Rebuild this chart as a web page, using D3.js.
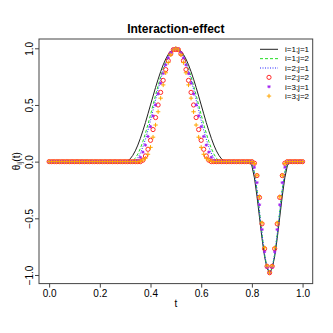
<!DOCTYPE html>
<html><head><meta charset="utf-8">
<script src="https://cdn.jsdelivr.net/npm/d3@7"></script>
<style>body{margin:0;background:#fff} svg{display:block} text{font-family:"Liberation Sans",Arial,sans-serif;fill:#000}</style>
</head><body><svg id="c" width="333" height="333"></svg>
<script>
const tGrid = [0,0.01,0.02,0.03,0.04,0.05,0.06,0.07,0.08,0.09,
0.1,0.11,0.12,0.13,0.14,0.15,0.16,0.17,0.18,0.19,
0.2,0.21,0.22,0.23,0.24,0.25,0.26,0.27,0.28,0.29,
0.3,0.31,0.32,0.33,0.34,0.35,0.36,0.37,0.38,0.39,
0.4,0.41,0.42,0.43,0.44,0.45,0.46,0.47,0.48,0.49,
0.5,0.51,0.52,0.53,0.54,0.55,0.56,0.57,0.58,0.59,
0.6,0.61,0.62,0.63,0.64,0.65,0.66,0.67,0.68,0.69,
0.7,0.71,0.72,0.73,0.74,0.75,0.76,0.77,0.78,0.79,
0.8,0.81,0.82,0.83,0.84,0.85,0.86,0.87,0.88,0.89,
0.9,0.91,0.92,0.93,0.94,0.95,0.96,0.97,0.98,0.99,1];

const xTicks = [0, 0.2, 0.4, 0.6, 0.8, 1.0];
const yTicks = [-1, -0.5, 0, 0.5, 1];
const seriesNames = ["i=1;j=1","i=1;j=2","i=2;j=1","i=2;j=2","i=3;j=1","i=3;j=2"];

const s11 = [0,0,0,0,0,0,0,0,0,0, 0,0,0,0,0,0,0,0,0,0, 0,0,0,0,0,0,0,0,0,0,
0,.006,.025,.055,.095,.146,.206,.273,.345,.422,
.5,.578,.655,.727,.794,.854,.905,.946,.976,.994,
1,.994,.976,.946,.905,.854,.794,.727,.655,.578,
.5,.422,.345,.273,.206,.146,.095,.055,.025,.006,
0,0,0,0,0,0,0,0,0,0,
-.037,-.143,-.303,-.49,-.677,-.837,-.943,-.98,-.943,-.837,
-.677,-.49,-.303,-.143,-.037,0,0,0,0,0, 0];

const s12 = [0,0,0,0,0,0,0,0,0,0, 0,0,0,0,0,0,0,0,0,0, 0,0,0,0,0,0,0,0,0,0,
0,0,0,.008,.030,.067,.117,.179,.25,.329,
.413,.5,.587,.671,.75,.821,.883,.933,.970,.992,
1,.992,.970,.933,.883,.821,.75,.671,.587,.5,
.413,.329,.25,.179,.117,.067,.030,.008,0,0,
0,0,0,0,0,0,0,0,0,0,
-.011,-.094,-.245,-.439,-.641,-.818,-.938,-.98,-.938,-.818,
-.641,-.439,-.245,-.094,-.011,0,0,0,0,0, 0];

const s21 = [0,0,0,0,0,0,0,0,0,0, 0,0,0,0,0,0,0,0,0,0, 0,0,0,0,0,0,0,0,0,0,
0,0,0,0,.009,.034,.075,.131,.199,.277,
.363,.454,.546,.637,.723,.801,.870,.925,.966,.992,
1,.992,.966,.925,.870,.801,.723,.637,.546,.454,
.363,.277,.199,.131,.075,.034,.009,0,0,0,
0,0,0,0,0,0,0,0,0,0,
-.012,-.097,-.247,-.44,-.64,-.815,-.935,-.975,-.935,-.815,
-.64,-.44,-.247,-.097,-.012,0,0,0,0,0, 0];

const s22 = [0,0,0,0,0,0,0,0,0,0, 0,0,0,0,0,0,0,0,0,0, 0,0,0,0,0,0,0,0,0,0,
0,0,0,0,0,0,0,.013,.050,.109,
.188,.283,.389,.5,.611,.717,.812,.891,.951,.988,
.99,.988,.951,.891,.812,.717,.611,.5,.389,.283,
.188,.109,.050,.013,0,0,0,0,0,0,
0,0,0,0,0,0,0,0,0,0,
0,-.014,-.123,-.316,-.549,-.768,-.924,-.98,-.924,-.768,
-.549,-.316,-.123,-.014,0,0,0,0,0,0, 0];

const s31 = [0,0,0,0,0,0,0,0,0,0, 0,0,0,0,0,0,0,0,0,0, 0,0,0,0,0,0,0,0,0,0,
0,0,0,0,0,.010,.038,.084,.146,.222,
.309,.403,.5,.598,.691,.778,.854,.916,.962,.990,
1,.990,.962,.916,.854,.778,.691,.598,.5,.403,
.309,.222,.146,.084,.038,.010,0,0,0,0,
0,0,0,0,0,0,0,0,0,0,
0,-.049,-.185,-.381,-.599,-.795,-.932,-.98,-.932,-.795,
-.599,-.381,-.185,-.049,0,0,0,0,0,0, 0];

const s32 = [0,0,0,0,0,0,0,0,0,0, 0,0,0,0,0,0,0,0,0,0, 0,0,0,0,0,0,0,0,0,0,
0,0,0,0,0,0,.005,.015,.030,.065,
.126,.216,.323,.440,.560,.677,.784,.874,.943,.986,
1,.986,.943,.874,.784,.677,.560,.440,.323,.216,
.126,.065,.030,.015,.005,0,0,0,0,0,
0,0,0,0,0,0,0,0,0,0,
0,-.016,-.12,-.31,-.54,-.76,-.92,-.98,-.92,-.76,
-.54,-.31,-.12,-.016,0,0,0,0,0,0, 0];

const svg = d3.select("#c");
svg.append("rect").attr("width",333).attr("height",333).attr("fill","#fff");

const L = 39, R = 312.7, T = 39, B = 283.6;
const x = d3.scaleLinear().domain([-0.04, 1.04]).range([L, R]);
const y = d3.scaleLinear().domain([-1.076, 1.082]).range([B, T]);

// axes
const xAxis = d3.axisBottom(x).tickValues(xTicks).tickFormat(d3.format(".1f")).tickSize(4).tickPadding(2);
const gx = svg.append("g").attr("transform", `translate(0,${B})`).call(xAxis);
gx.select(".domain").remove();
gx.selectAll("line").attr("stroke","#444");
gx.selectAll("text").attr("font-size",10).attr("font-family","Liberation Sans, Arial, sans-serif").attr("fill","#000");

const yAxis = d3.axisLeft(y).tickValues(yTicks).tickFormat(d3.format(".1f")).tickSize(4);
const gy = svg.append("g").attr("transform", `translate(${L},0)`).call(yAxis);
gy.select(".domain").remove();
gy.selectAll("line").attr("stroke","#444");
gy.selectAll("text")
  .attr("font-size",10).attr("font-family","Liberation Sans, Arial, sans-serif").attr("fill","#000")
  .attr("x",null).attr("dy",null)
  .attr("text-anchor","middle")
  .attr("transform","translate(-6,0) rotate(-90)");

// box
svg.append("rect").attr("x",L).attr("y",T).attr("width",R-L).attr("height",B-T)
  .attr("fill","none").attr("stroke","#444").attr("stroke-width",1);

// title & labels
svg.append("text").attr("x",(L+R)/2).attr("y",33).attr("text-anchor","middle")
  .attr("font-size",12).attr("font-weight","bold").text("Interaction-effect");
svg.append("text").attr("x",(L+R)/2).attr("y",306.5).attr("text-anchor","middle")
  .attr("font-size",10).text("t");
const yl = svg.append("text").attr("transform",`translate(20,${(T+B)/2}) rotate(-90)`)
  .attr("text-anchor","middle").attr("font-size",10);
yl.append("tspan").text("θ");
yl.append("tspan").attr("font-size",7).attr("dy",2).text("ij");
yl.append("tspan").attr("dy",-2).text("(t)");

const line = d3.line().x((d,i)=>x(tGrid[i])).y(d=>y(d));
const plot = svg.append("g");
plot.append("path").datum(s11).attr("d",line).attr("fill","none").attr("stroke","#222").attr("stroke-width",1);
plot.append("path").datum(s12).attr("d",line).attr("fill","none").attr("stroke","#22dd22").attr("stroke-width",1).attr("stroke-dasharray","3,2");
plot.append("path").datum(s21).attr("d",line).attr("fill","none").attr("stroke","#2222ff").attr("stroke-width",1).attr("stroke-dasharray","1,1.5");

const circ = "#ff2a2a", purp = "#a020f0", oran = "#ffa500";
function star(g, cx, cy, r, col){
  const a = r*0.7071;
  g.append("path").attr("d",`M${cx-r},${cy}H${cx+r}M${cx},${cy-r}V${cy+r}M${cx-a},${cy-a}L${cx+a},${cy+a}M${cx-a},${cy+a}L${cx+a},${cy-a}`)
   .attr("stroke",col).attr("stroke-width",0.9).attr("fill","none");
}
function plus(g, cx, cy, r, col){
  g.append("path").attr("d",`M${cx-r},${cy}H${cx+r}M${cx},${cy-r}V${cy+r}`)
   .attr("stroke",col).attr("stroke-width",1).attr("fill","none");
}
plot.selectAll("circle.p").data(s22).join("circle").attr("class","p")
  .attr("cx",(d,i)=>x(tGrid[i])).attr("cy",d=>y(d)).attr("r",2.1)
  .attr("fill","none").attr("stroke",circ).attr("stroke-width",1);
const gs = plot.append("g");
s31.forEach((d,i)=>star(gs, x(tGrid[i]), y(d), 1.6, purp));
const gp = plot.append("g");
s32.forEach((d,i)=>plus(gp, x(tGrid[i]), y(d), 2.2, oran));

// legend
const lg = svg.append("g");
const ly0 = 49.3, ldy = 9.35, lx1 = 260, lx2 = 278, ltx = 285;
const lstyles = [
  {type:"line", col:"#222", dash:null},
  {type:"line", col:"#22dd22", dash:"3,2"},
  {type:"line", col:"#2222ff", dash:"1,1.5"},
  {type:"circle", col:circ},
  {type:"star", col:purp},
  {type:"plus", col:oran}
];
seriesNames.forEach((name,i)=>{
  const yy = ly0 + i*ldy;
  const s = lstyles[i];
  if (s.type==="line") {
    lg.append("line").attr("x1",lx1).attr("x2",lx2).attr("y1",yy).attr("y2",yy)
      .attr("stroke",s.col).attr("stroke-width",1).attr("stroke-dasharray",s.dash);
  } else if (s.type==="circle") {
    lg.append("circle").attr("cx",(lx1+lx2)/2).attr("cy",yy).attr("r",2.1).attr("fill","none").attr("stroke",s.col).attr("stroke-width",1);
  } else if (s.type==="star") {
    star(lg,(lx1+lx2)/2,yy,1.6,s.col);
  } else {
    plus(lg,(lx1+lx2)/2,yy,2.2,s.col);
  }
  lg.append("text").attr("x",ltx).attr("y",yy+2.8).attr("font-size",8).text(name);
});
</script>
</body></html>
